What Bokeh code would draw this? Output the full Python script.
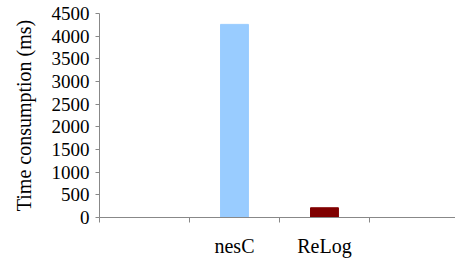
from bokeh.plotting import figure
from bokeh.models import FixedTicker
from bokeh.embed import file_html
from bokeh.resources import INLINE

categories = ["", "nesC", "ReLog", ""]
values = [0, 4260, 215, 0]
colors = ["#99CCFF", "#99CCFF", "#800000", "#800000"]
y_ticks = [0, 500, 1000, 1500, 2000, 2500, 3000, 3500, 4000, 4500]

centers = [i + 0.5 for i in range(len(categories))]
bounds = [i for i in range(len(categories) + 1)]

p = figure(width=455, height=259, x_range=(0, 3.956), y_range=(0, 4500),
           min_border_left=99, min_border_right=0, min_border_top=13, min_border_bottom=38,
           output_backend="svg", toolbar_location=None)
p.outline_line_color = None
p.grid.visible = False

p.vbar(x=centers, top=values, width=0.31, color=colors)

axis_color = "#888888"
font = "'Liberation Serif', 'Times New Roman', serif"

xa = p.xaxis[0]
xa.ticker = FixedTicker(ticks=centers, minor_ticks=bounds)
xa.major_label_overrides = {c: lab for c, lab in zip(centers, categories)}
xa.major_tick_in = 0
xa.major_tick_out = 0
xa.minor_tick_in = 0
xa.minor_tick_out = 5
xa.minor_tick_line_color = axis_color
xa.axis_line_color = axis_color
xa.major_label_text_font = font
xa.major_label_text_font_size = "20px"
xa.major_label_text_color = "black"
xa.major_label_standoff = 12

ya = p.yaxis[0]
ya.ticker = FixedTicker(ticks=y_ticks)
ya.major_tick_in = 0
ya.major_tick_out = 4
ya.minor_tick_line_color = None
ya.major_tick_line_color = axis_color
ya.axis_line_color = axis_color
ya.major_label_text_font = font
ya.major_label_text_font_size = "19px"
ya.major_label_text_color = "black"
ya.major_label_standoff = 6
ya.axis_label = "Time consumption (ms)"
ya.axis_label_text_font = font
ya.axis_label_text_font_size = "20px"
ya.axis_label_text_font_style = "normal"
ya.axis_label_text_color = "black"
ya.axis_label_standoff = 14

open("out.html", "w").write(file_html(p, INLINE))
